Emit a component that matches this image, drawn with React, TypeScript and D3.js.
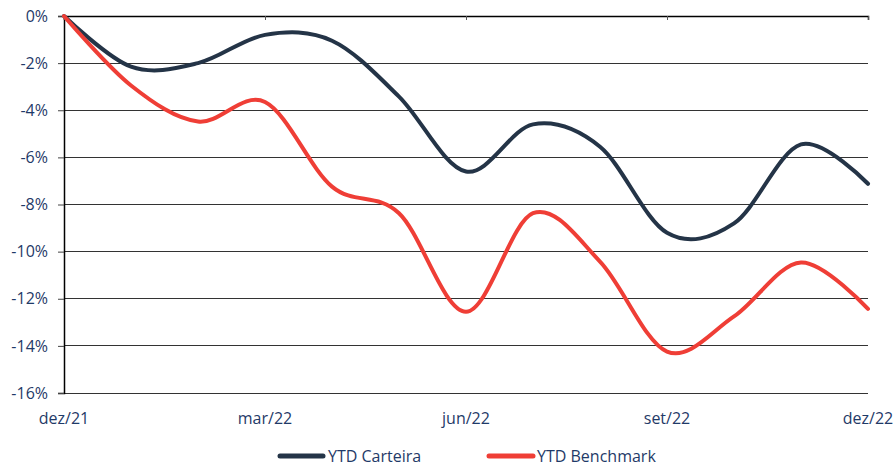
import React, { useEffect, useRef } from "react";
import * as d3 from "d3";

const months = ["dez/21", "jan/22", "fev/22", "mar/22", "abr/22", "mai/22", "jun/22", "jul/22", "ago/22", "set/22", "out/22", "nov/22", "dez/22"];
const carteira = [0, -2.15, -2.0, -0.8, -1.05, -3.42, -6.6, -4.6, -5.55, -9.2, -8.8, -5.45, -7.12];
const benchmark = [0, -2.95, -4.48, -3.65, -7.24, -8.37, -12.55, -8.37, -10.42, -14.24, -12.75, -10.46, -12.43];
const yTicks = [0, -2, -4, -6, -8, -10, -12, -14, -16];
const xLabels = ["dez/21", "mar/22", "jun/22", "set/22", "dez/22"];

const W = 895;
const H = 466;
const margin = { top: 16, right: 27, bottom: 73, left: 64 };
const navy = "#243447";
const red = "#EF3E36";
const textColor = "#1F3A68";
const font = "'Open Sans', sans-serif";

const App = () => {
  const refx = useRef<SVGGElement>(null);
  const refy = useRef<SVGGElement>(null);

  const innerW = W - margin.left - margin.right;
  const innerH = H - margin.top - margin.bottom;

  const x = d3.scalePoint<string>().domain(months).range([0, innerW]);
  const y = d3.scaleLinear().domain([-16, 0]).range([innerH, 0]);

  const line = d3
    .line<number>()
    .x((_, i) => x(months[i]) as number)
    .y((d) => y(d))
    .curve(d3.curveCatmullRom.alpha(0));

  useEffect(() => {
    // category axis sits on the 0% line, ticks pointing down
    const xAxis = d3.axisBottom(x).tickValues(xLabels).tickSize(4).tickFormat(() => "");
    const gx = d3.select(refx.current!).call(xAxis);
    gx.select(".domain").attr("stroke", "#000").attr("stroke-width", 1.5);
    gx.selectAll(".tick line").attr("stroke", "#555");

    const yAxis = d3.axisLeft(y).tickValues(yTicks).tickSize(6).tickPadding(10).tickFormat((d) => d + "%");
    const gy = d3.select(refy.current!).call(yAxis);
    gy.select(".domain").attr("stroke", "#000").attr("stroke-width", 1.5);
    gy.selectAll(".tick line").attr("stroke", "#444");
    gy.selectAll(".tick text").attr("fill", textColor).style("font-family", font).style("font-size", "16px");
  }, []);

  return (
    <svg width={W} height={H} style={{ position: "absolute", left: 0, top: 0, background: "#fff" }}>
      <g transform={`translate(${margin.left},${margin.top})`}>
        {yTicks.slice(1).map((t) => (
          <line key={t} x1={0} x2={innerW} y1={y(t)} y2={y(t)} stroke="#333" strokeWidth={1} shapeRendering="crispEdges" />
        ))}
        <g ref={refy} />
        <g ref={refx} />
        {xLabels.map((m) => (
          <text key={m} x={x(m)} y={innerH + 31} textAnchor="middle" fill={textColor} style={{ fontFamily: font, fontSize: "16px" }}>
            {m}
          </text>
        ))}
        <path d={line(carteira) || ""} fill="none" stroke={navy} strokeWidth={4} strokeLinecap="round" />
        <path d={line(benchmark) || ""} fill="none" stroke={red} strokeWidth={4} strokeLinecap="round" />
      </g>
      <g transform="translate(280,456)" style={{ fontFamily: font, fontSize: "16px" }} fill={textColor}>
        <line x1={0} x2={43} y1={0} y2={0} stroke={navy} strokeWidth={5} strokeLinecap="round" />
        <text x={48} y={5.5}>YTD Carteira</text>
        <line x1={209} x2={253} y1={0} y2={0} stroke={red} strokeWidth={5} strokeLinecap="round" />
        <text x={257} y={5.5}>YTD Benchmark</text>
      </g>
    </svg>
  );
};

export default App;
